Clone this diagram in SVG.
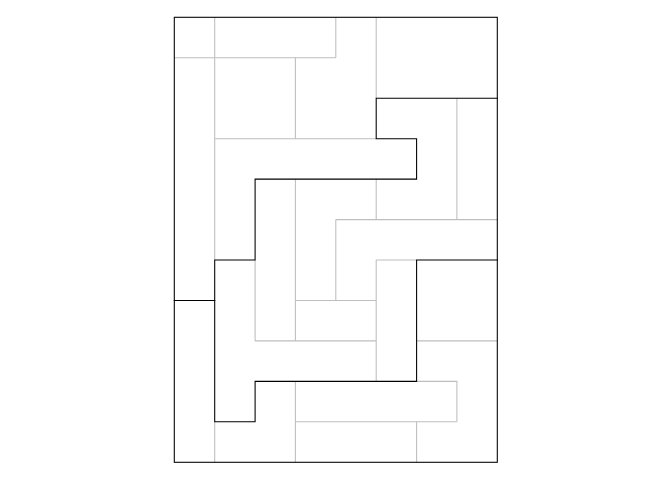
<svg xmlns="http://www.w3.org/2000/svg" width="672" height="480" viewBox="0 0 672 480">
<style>
.g{stroke:#bebebe;stroke-width:1.07;fill:none;stroke-linecap:butt}
.k{stroke:#000;stroke-width:1.07;fill:none;stroke-linejoin:miter;stroke-linecap:square}
</style>
<rect width="672" height="480" fill="#fff"/>
<g id="grid" class="g">
<path d="M214.7 17.3V260M214.7 421.8V462.3"/>
<path d="M174.3 57.8H335.8M335.8 17.3V57.8"/>
<path d="M376.2 17.3V98.2"/>
<path d="M295.4 57.8V138.7M214.7 138.7H376.2"/>
<path d="M456.9 98.2V219.6"/>
<path d="M295.4 179.1V340.9M376.2 179.1V219.6"/>
<path d="M335.8 219.6H497.3M335.8 219.6V300.5"/>
<path d="M255.1 260V340.9M295.4 300.5H376.2M255.1 340.9H376.2"/>
<path d="M376.2 260H416.6M376.2 260V381.4"/>
<path d="M416.6 340.9H497.3"/>
<path d="M416.6 381.4H456.9V421.8"/>
<path d="M295.4 421.8H456.9M295.4 381.4V462.3M416.6 421.8V462.3"/>
</g>
<g id="outline" class="k">
<rect x="174.3" y="17.3" width="323" height="445"/>
<path d="M497.3 98.2H376.2V138.7H416.6V179.1H255.1V260H214.7V421.8H255.1V381.4H416.6V260H497.3"/>
<path d="M174.3 300.5H214.7"/>
</g>
</svg>
